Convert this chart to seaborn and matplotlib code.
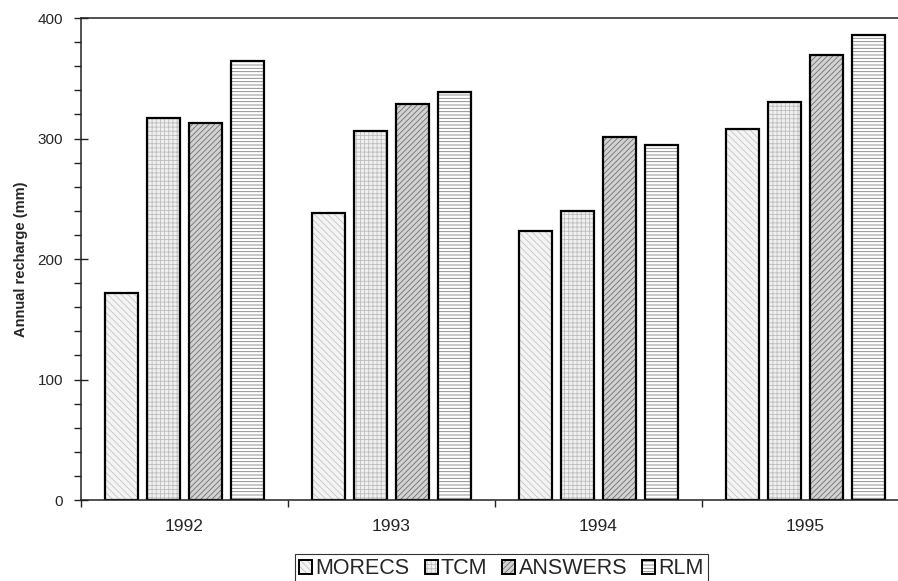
import matplotlib
matplotlib.use("Agg")
import matplotlib.pyplot as plt
from matplotlib.patches import Patch, Rectangle
from matplotlib.ticker import MultipleLocator, FixedLocator
import seaborn as sns
import pandas as pd

years = ["1992", "1993", "1994", "1995"]
models = ["MORECS", "TCM", "ANSWERS", "RLM"]
morecs = [172, 238, 223, 308]
tcm = [317, 306, 240, 330]
answers = [313, 329, 301, 369]
rlm = [364, 339, 295, 386]

sns.set_theme(style="ticks")
plt.rcParams["font.family"] = ["Liberation Sans", "DejaVu Sans"]
plt.rcParams["hatch.linewidth"] = 0.6

rows = []
for m, vals in zip(models, [morecs, tcm, answers, rlm]):
    for y, v in zip(years, vals):
        rows.append({"Year": y, "Model": m, "Recharge": v})
df = pd.DataFrame(rows)

# face colour, hatch, hatch colour per model
faces = ["#f4f4f4", "#f0f0f0", "#d2d2d2", "#ffffff"]
hatches = ["\\\\\\\\\\", "++++", "//////", "-----"]
hatch_cols = ["#c4c4c4", "#bdbdbd", "#707070", "#808080"]

fig = plt.figure(figsize=(8.98, 5.81), dpi=100)
ax = fig.add_axes([0.0902, 0.1394, 0.922, 0.8296])

sns.barplot(data=df, x="Year", y="Recharge", hue="Model", hue_order=models,
            palette=faces, width=0.81, gap=0.2, errorbar=None, ax=ax,
            legend=False, saturation=1)

handles = []
for cont, h, hc, fc in zip(ax.containers, hatches, hatch_cols, faces):
    for p in cont:
        p.set_hatch(h)
        p.set_edgecolor(hc)
        p.set_linewidth(0)
        # black outline on top of the hatched bar
        ax.add_patch(Rectangle(p.get_xy(), p.get_width(), p.get_height(),
                               fill=False, edgecolor="black", linewidth=1.6,
                               zorder=p.get_zorder() + 0.1))
    handles.append((Patch(facecolor=fc, edgecolor=hc, hatch=h, linewidth=0),
                    Patch(fill=False, edgecolor="black", linewidth=1.4)))

ax.set_xlim(-0.5, 3.5)
ax.set_ylim(0, 400)
ax.yaxis.set_major_locator(MultipleLocator(100))
ax.yaxis.set_minor_locator(MultipleLocator(20))
ax.xaxis.set_minor_locator(FixedLocator([-0.5, 0.5, 1.5, 2.5, 3.5]))

ax.tick_params(axis="y", which="major", direction="inout", length=10, width=1,
               labelsize=11, pad=8, color="#222222")
ax.tick_params(axis="y", which="minor", direction="out", length=5, width=1,
               color="#222222")
ax.tick_params(axis="x", which="major", length=0, labelsize=12.5, pad=14)
ax.tick_params(axis="x", which="minor", direction="out", length=5, width=1,
               color="#222222")

for s in ax.spines.values():
    s.set_linewidth(1.1)
    s.set_color("#222222")

ax.set_xlabel("")
ax.set_ylabel("Annual recharge (mm)", fontsize=10.5, fontweight="bold", labelpad=7)

leg = fig.legend(handles, models, loc="upper center", bbox_to_anchor=(0.5585, 0.0465),
                 ncol=4, fontsize=15.5, frameon=True, fancybox=False,
                 edgecolor="#333333", framealpha=1, handlelength=0.6,
                 handleheight=0.6, handletextpad=0.15, columnspacing=0.7,
                 borderpad=0.2, borderaxespad=0)
leg.get_frame().set_linewidth(0.8)

fig.savefig("out.png", dpi=100)
